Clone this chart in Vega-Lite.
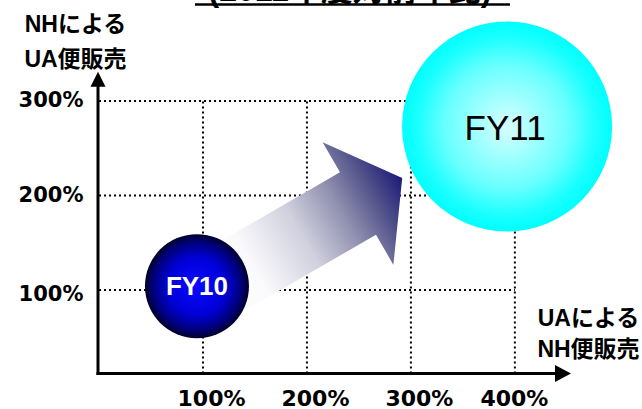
{
  "$schema": "https://vega.github.io/schema/vega-lite/v6.json",
  "width": 473,
  "height": 299,
  "autosize": {"type": "none"},
  "padding": {"left": 98, "top": 75, "right": 71, "bottom": 35},
  "background": "white",
  "config": {
    "view": {"stroke": null},
    "axis": {
      "domain": false, "ticks": false, "grid": false,
      "labelFont": "DejaVu Sans", "labelFontWeight": "bold", "labelColor": "black",
      "titleFont": "Liberation Sans, Noto Sans CJK JP", "titleFontWeight": "bold",
      "titleFontSize": 23, "titleColor": "black", "titleAngle": 0, "titleAlign": "center",
      "titleBaseline": "alphabetic"
    }
  },
  "datasets": {
    "bubbles": [
      {"name": "FY10", "x": 94.2, "y": 104, "size": 100},
      {"name": "FY11", "x": 392.5, "y": 273, "size": 408}
    ],
    "hgrid": [{"pct": 100}, {"pct": 200}, {"pct": 300}],
    "vgrid": [{"pct": 100}, {"pct": 200}, {"pct": 300}, {"pct": 400}],
    "arrow": [{"from": "FY10", "to": "FY11", "x": 195.4, "y": 157.3}]
  },
  "layer": [
    {
      "data": {"name": "hgrid"},
      "mark": {"type": "rule", "stroke": "black", "strokeWidth": 2, "strokeDash": [2, 3]},
      "encoding": {
        "y": {
          "field": "pct", "type": "quantitative",
          "scale": {"domain": [11, 327.5], "nice": false, "zero": false},
          "axis": {
            "values": [100, 200, 300],
            "labelExpr": "datum.value + '%'",
            "labelFontSize": 21, "labelPadding": 15,
            "labelOffset": {"condition": {"test": "datum.value === 100", "value": 5}, "value": 0},
            "title": ["NHによる", "UA便販売"],
            "titleX": -23, "titleY": -44, "titleLineHeight": 35
          }
        },
        "x": {
          "datum": 0, "type": "quantitative",
          "scale": {"domain": [-1, 454], "nice": false, "zero": false},
          "axis": {
            "values": [100, 200, 300, 400],
            "labelExpr": "datum.value + '%'",
            "labelFontSize": 22, "labelPadding": 14,
            "labelOffset": {"condition": {"test": "datum.value === 400", "value": -1}, "value": 8},
            "title": ["UAによる", "NH便販売"],
            "titleX": 490, "titleY": -49, "titleLineHeight": 31
          }
        },
        "x2": {"datum": 400}
      }
    },
    {
      "data": {"name": "vgrid"},
      "mark": {"type": "rule", "stroke": "black", "strokeWidth": 2, "strokeDash": [2, 3]},
      "encoding": {
        "x": {"field": "pct", "type": "quantitative"},
        "y": {"datum": 11.5, "type": "quantitative"},
        "y2": {"datum": 300}
      }
    },
    {
      "data": {"values": [{}]},
      "mark": {"type": "rule", "stroke": "black", "strokeWidth": 3, "strokeCap": "square"},
      "encoding": {
        "x": {"datum": -1, "type": "quantitative"},
        "y": {"datum": 11.5, "type": "quantitative"},
        "y2": {"datum": 320}
      }
    },
    {
      "data": {"values": [{}]},
      "mark": {"type": "rule", "stroke": "black", "strokeWidth": 3, "strokeCap": "square"},
      "encoding": {
        "x": {"datum": -1, "type": "quantitative"},
        "x2": {"datum": 440},
        "y": {"datum": 11.5, "type": "quantitative"}
      }
    },
    {
      "data": {"values": [{}]},
      "mark": {"type": "point", "shape": "M 0 -1 L 1 1 L -1 1 Z", "filled": true, "fill": "black", "opacity": 1, "strokeWidth": 0, "size": 225},
      "encoding": {
        "x": {"datum": -1, "type": "quantitative"},
        "y": {"datum": 323, "type": "quantitative"}
      }
    },
    {
      "data": {"values": [{}]},
      "mark": {"type": "point", "shape": "M 1 0 L -1 -1.06 L -1 1.06 Z", "filled": true, "fill": "black", "opacity": 1, "strokeWidth": 0, "size": 256},
      "encoding": {
        "x": {"datum": 446.3, "type": "quantitative"},
        "y": {"datum": 11.5, "type": "quantitative"}
      }
    },
    {
      "data": {"name": "arrow"},
      "mark": {
        "type": "point",
        "shape": "M -1 -0.312 L 0.558 -0.312 L 0.558 -0.613 L 1 0 L 0.558 0.613 L 0.558 0.312 L -1 0.312 Z",
        "filled": true, "opacity": 1, "strokeWidth": 0, "size": 53361, "angle": -30,
        "fill": {
          "gradient": "linear", "x1": 0, "y1": 0.5, "x2": 1, "y2": 0.5,
          "stops": [
            {"offset": 0, "color": "#ffffff"},
            {"offset": 0.25, "color": "#fafafc"},
            {"offset": 0.5, "color": "#d0d0de"},
            {"offset": 0.7, "color": "#9090b0"},
            {"offset": 0.85, "color": "#55558c"},
            {"offset": 1, "color": "#1a1a78"}
          ]
        }
      },
      "encoding": {
        "x": {"field": "x", "type": "quantitative"},
        "y": {"field": "y", "type": "quantitative"}
      }
    },
    {
      "data": {"name": "bubbles"},
      "transform": [{"filter": "datum.name === 'FY10'"}],
      "mark": {
        "type": "point", "shape": "circle", "filled": true, "opacity": 1, "strokeWidth": 0,
        "fill": {
          "gradient": "radial", "x1": 0.5, "y1": 0.5, "r1": 0, "x2": 0.5, "y2": 0.5, "r2": 0.5,
          "stops": [
            {"offset": 0, "color": "#0a0aff"},
            {"offset": 0.55, "color": "#0000d8"},
            {"offset": 0.85, "color": "#00007a"},
            {"offset": 1, "color": "#00002a"}
          ]
        }
      },
      "encoding": {
        "x": {"field": "x", "type": "quantitative"},
        "y": {"field": "y", "type": "quantitative"},
        "size": {"field": "size", "type": "quantitative", "scale": {"type": "linear", "domain": [0, 100], "range": [0, 10816]}, "legend": null}
      }
    },
    {
      "data": {"name": "bubbles"},
      "transform": [{"filter": "datum.name === 'FY11'"}],
      "mark": {
        "type": "point", "shape": "circle", "filled": true, "opacity": 1, "strokeWidth": 0,
        "fill": {
          "gradient": "radial", "x1": 0.5, "y1": 0.5, "r1": 0, "x2": 0.5, "y2": 0.5, "r2": 0.5,
          "stops": [
            {"offset": 0, "color": "#d8ffff"},
            {"offset": 0.6, "color": "#66ffff"},
            {"offset": 0.85, "color": "#1affff"},
            {"offset": 1, "color": "#00ffff"}
          ]
        }
      },
      "encoding": {
        "x": {"field": "x", "type": "quantitative"},
        "y": {"field": "y", "type": "quantitative"},
        "size": {"field": "size", "type": "quantitative", "scale": {"type": "linear", "domain": [0, 100], "range": [0, 10816]}, "legend": null}
      }
    },
    {
      "data": {"name": "bubbles"},
      "transform": [{"filter": "datum.name === 'FY10'"}],
      "mark": {"type": "text", "font": "Liberation Sans", "fontWeight": "bold", "fontSize": 26, "fill": "white", "align": "center", "baseline": "middle", "dy": 1},
      "encoding": {
        "x": {"field": "x", "type": "quantitative"},
        "y": {"field": "y", "type": "quantitative"},
        "text": {"field": "name"}
      }
    },
    {
      "data": {"name": "bubbles"},
      "transform": [{"filter": "datum.name === 'FY11'"}],
      "mark": {"type": "text", "font": "Liberation Sans", "fontWeight": "normal", "fontSize": 35, "fill": "black", "align": "center", "baseline": "middle", "dy": 3, "dx": -2},
      "encoding": {
        "x": {"field": "x", "type": "quantitative"},
        "y": {"field": "y", "type": "quantitative"},
        "text": {"field": "name"}
      }
    },
    {
      "data": {"values": [{"title": "(2011年度対前年比)"}]},
      "mark": {"type": "text", "font": "Liberation Sans, Noto Sans CJK JP", "fontWeight": "bold", "fontSize": 32, "fill": "black", "align": "center", "baseline": "alphabetic"},
      "encoding": {
        "x": {"datum": 241.4, "type": "quantitative"},
        "y": {"datum": 405.8, "type": "quantitative"},
        "text": {"field": "title"}
      }
    },
    {
      "data": {"values": [{}]},
      "mark": {"type": "rule", "stroke": "black", "strokeWidth": 2.5},
      "encoding": {
        "x": {"datum": 92.3, "type": "quantitative"},
        "x2": {"datum": 395.3},
        "y": {"datum": 402.1, "type": "quantitative"}
      }
    }
  ]
}
